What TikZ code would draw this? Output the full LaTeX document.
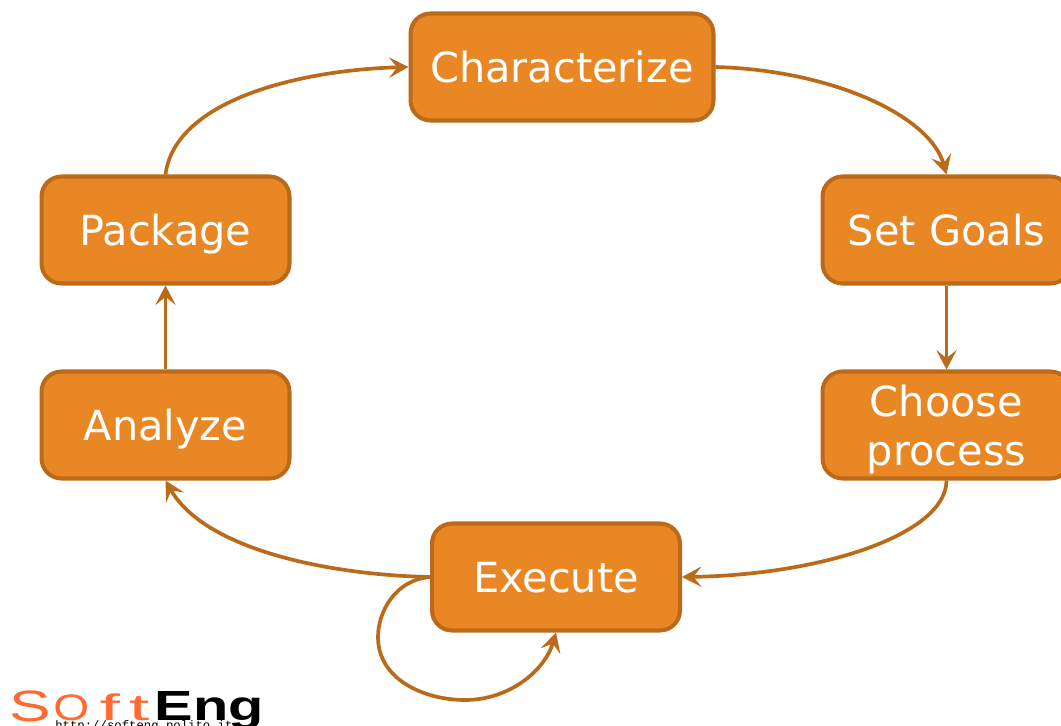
\documentclass[tikz,border=0pt]{standalone}
\usepackage{fontspec}
\setmainfont{DejaVu Sans}
\newfontfamily\logofont{Liberation Sans}
\newfontfamily\urlfont{Liberation Mono}
\usetikzlibrary{arrows.meta}
\definecolor{boxfill}{HTML}{E98725}
\definecolor{boxline}{HTML}{BA6A19}
\definecolor{logoorange}{HTML}{FF6A33}

\begin{document}
\begin{tikzpicture}[x=0.02cm,y=-0.02cm]
\tikzset{stage/.style = {shape=rectangle,draw=boxline,fill=boxfill,line width=2.3pt,rounded corners=0.4cm,minimum width=4.96cm,minimum height=2.14cm,inner sep=0pt,text=white,font=\fontsize{23.6}{27.6}\selectfont,align=center}}
\tikzset{oneline/.style = {stage,text height=22pt,text depth=3.8pt}}
\tikzset{edge/.style = {draw=boxline,line width=2.1pt,-{Stealth[length=11pt,width=11.5pt,inset=4.5pt]}}}
\tikzset{logotext/.style = {inner sep=0pt,anchor=base west}}
\clip (0,0) rectangle (1061,726);
\useasboundingbox (0,0) rectangle (1061,726);
\node[oneline,minimum width=6.06cm] (characterize) at (562,67) {Characterize};
\node[oneline] (goals) at (946.5,230) {Set Goals};
\node[stage] (choose) at (946.5,425) {\rule{0pt}{23pt}Choose\\process};
\node[oneline] (execute) at (556,577) {Execute};
\node[oneline] (analyze) at (165.5,425) {Analyze};
\node[oneline] (package) at (165.5,230) {Package};
\draw[edge] (characterize.east) .. controls (830,70) and (930,115) .. (goals.north);
\draw[edge] (goals) to (choose);
\draw[edge] (choose.south) .. controls (946,535) and (820,575) .. (execute.east);
\draw[edge] (execute.west) .. controls (330,575) and (205,550) .. (analyze.south);
\draw[edge] (analyze) to (package);
\draw[edge] (package.north) .. controls (175,100) and (300,70) .. (characterize.west);
\draw[edge] (execute.west) .. controls (395,580) and (378,612) .. (378,637)
  .. controls (378,680) and (425,700) .. (465,700)
  .. controls (510,700) and (545,670) .. (execute.south);
% logo
\node[logotext,text=logoorange,xscale=1.42,font=\logofont\fontsize{25}{25}\selectfont] (logos) at (9,721) {S};
\node[logotext,text=logoorange,xscale=1.25,font=\logofont\fontsize{21}{21}\selectfont] (logoo) at (53,720) {O};
\node[logotext,text=logoorange,xscale=2,font=\logofont\fontsize{21}{21}\selectfont] (logoft) at (99,720) {f\kern2.5pt t};
\node[logotext,text=black,xscale=1.37,font=\logofont\bfseries\fontsize{24}{24}\selectfont] (logoeng) at (154,720) {Eng};
\node[logotext,text=black,font=\urlfont\fontsize{7}{8}\selectfont] (logourl) at (55,729) {http://softeng.polito.it};
\end{tikzpicture}
\end{document}
